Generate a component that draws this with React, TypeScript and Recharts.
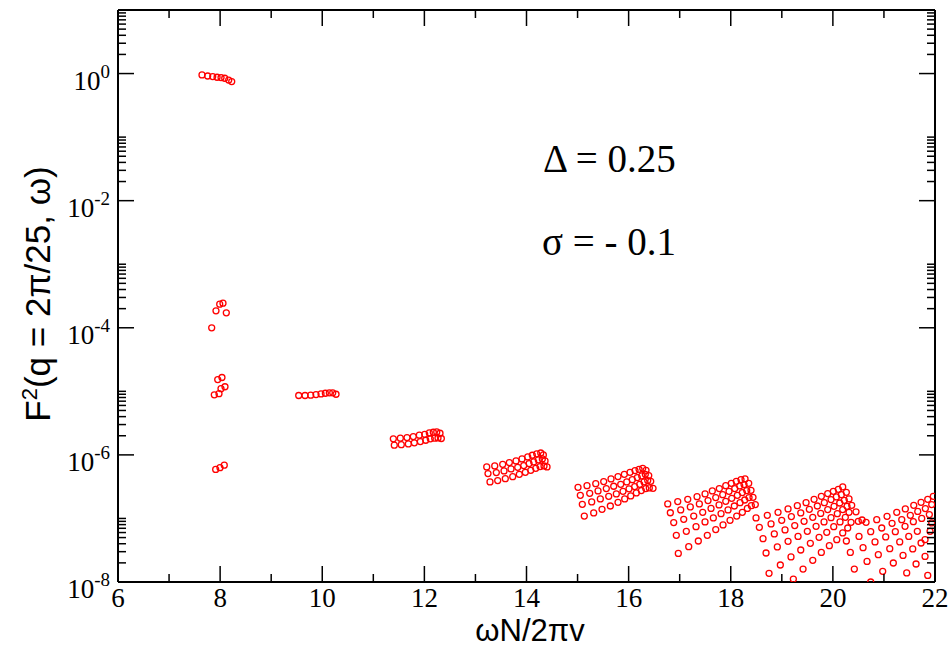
import React from "react";
import { ScatterChart, Scatter, XAxis, YAxis } from "recharts";

// points, one array per band of modes: [omegaN/2piv, F^2]
const band1 = [[7.645, 0.95], [7.756, 0.916], [7.855, 0.897], [7.94, 0.875], [8.018, 0.865], [8.09, 0.843], [8.168, 0.79], [8.227, 0.748]];
const band2 = [[7.835, 1.0e-4], [7.919, 1.85e-4], [7.992, 2.35e-4], [8.056, 2.44e-4], [8.121, 1.72e-4]];
const band3 = [[7.886, 8.8e-6], [7.953, 1.53e-5], [7.978, 9.2e-6], [8.017, 1.1e-5], [8.036, 1.65e-5], [8.095, 1.18e-5]];
const band4 = [[7.913, 5.9e-7], [7.997, 6.3e-7], [8.081, 6.9e-7]];
const band5 = [[9.539, 8.6e-6], [9.663, 8.6e-6], [9.774, 8.7e-6], [9.878, 8.9e-6], [9.976, 9.1e-6], [10.061, 9.33e-6], [10.139, 9.47e-6], [10.205, 9.47e-6], [10.27, 9.0e-6]];
const band6 = [
  [11.392, 1.79e-6], [11.529, 1.83e-6], [11.66, 1.87e-6], [11.783, 1.94e-6], [11.901, 2.04e-6], [12.007, 2.11e-6], [12.097, 2.22e-6], [12.175, 2.27e-6], [12.242, 2.3e-6], [12.306, 2.19e-6],
  [11.411, 1.42e-6], [11.548, 1.45e-6], [11.686, 1.49e-6], [11.803, 1.55e-6], [11.921, 1.62e-6], [12.026, 1.7e-6], [12.116, 1.79e-6], [12.202, 1.83e-6], [12.267, 1.85e-6], [12.332, 1.81e-6],
];
const band7 = [
  [13.221, 6.47e-7], [13.378, 6.71e-7], [13.534, 7.11e-7], [13.664, 7.57e-7], [13.795, 8.05e-7], [13.912, 8.65e-7], [14.024, 9.3e-7], [14.114, 9.87e-7], [14.2, 1.04e-6], [14.279, 1.07e-6], [14.33, 1.0e-6],
  [13.246, 5.08e-7], [13.409, 5.27e-7], [13.56, 5.6e-7], [13.697, 6.02e-7], [13.828, 6.38e-7], [13.946, 6.78e-7], [14.05, 7.29e-7], [14.141, 7.76e-7], [14.231, 8.34e-7], [14.31, 8.65e-7], [14.363, 8.05e-7],
  [13.285, 3.76e-7], [13.436, 3.94e-7], [13.585, 4.23e-7], [13.73, 4.54e-7], [13.859, 4.94e-7], [13.977, 5.32e-7], [14.083, 5.72e-7], [14.181, 6.15e-7], [14.265, 6.54e-7], [14.343, 6.71e-7], [14.402, 6.47e-7],
];
const band8 = [
  [15.009, 3.09e-7], [15.185, 3.28e-7], [15.356, 3.53e-7], [15.512, 3.8e-7], [15.655, 4.19e-7], [15.792, 4.55e-7], [15.916, 4.94e-7], [16.027, 5.32e-7], [16.125, 5.66e-7], [16.204, 5.93e-7], [16.276, 6.15e-7], [16.341, 5.72e-7],
  [15.054, 2.31e-7], [15.238, 2.48e-7], [15.401, 2.71e-7], [15.563, 2.95e-7], [15.708, 3.21e-7], [15.845, 3.44e-7], [15.963, 3.76e-7], [16.072, 4.08e-7], [16.17, 4.39e-7], [16.256, 4.67e-7], [16.327, 4.94e-7], [16.394, 4.72e-7],
  [15.093, 1.67e-7], [15.277, 1.82e-7], [15.446, 2.03e-7], [15.61, 2.23e-7], [15.759, 2.43e-7], [15.89, 2.67e-7], [16.008, 2.92e-7], [16.119, 3.17e-7], [16.217, 3.44e-7], [16.302, 3.76e-7], [16.374, 3.94e-7], [16.433, 3.84e-7],
  [15.132, 1.09e-7], [15.316, 1.22e-7], [15.479, 1.39e-7], [15.642, 1.57e-7], [15.792, 1.79e-7], [15.923, 2.03e-7], [16.041, 2.26e-7], [16.151, 2.52e-7], [16.249, 2.74e-7], [16.335, 2.95e-7], [16.405, 3.02e-7], [16.478, 2.98e-7],
];
const band9 = [
  [16.766, 1.69e-7], [16.962, 1.84e-7], [17.158, 2.0e-7], [17.34, 2.2e-7], [17.497, 2.43e-7], [17.639, 2.71e-7], [17.776, 2.95e-7], [17.902, 3.28e-7], [18.011, 3.57e-7], [18.109, 3.84e-7], [18.201, 4.08e-7], [18.28, 4.19e-7],
  [16.817, 1.23e-7], [17.02, 1.36e-7], [17.208, 1.52e-7], [17.385, 1.69e-7], [17.555, 1.91e-7], [17.706, 2.13e-7], [17.843, 2.37e-7], [17.966, 2.67e-7], [18.078, 2.95e-7], [18.176, 3.25e-7], [18.26, 3.41e-7], [18.352, 3.57e-7],
  [16.883, 8.6e-8], [17.079, 9.7e-8], [17.275, 1.09e-7], [17.451, 1.25e-7], [17.614, 1.44e-7], [17.771, 1.63e-7], [17.902, 1.86e-7], [18.019, 2.07e-7], [18.129, 2.31e-7], [18.227, 2.55e-7], [18.313, 2.74e-7], [18.397, 2.77e-7],
  [16.934, 5.42e-8], [17.13, 6.27e-8], [17.32, 7.43e-8], [17.496, 8.81e-8], [17.659, 1.02e-7], [17.81, 1.19e-7], [17.947, 1.36e-7], [18.07, 1.57e-7], [18.182, 1.77e-7], [18.274, 1.95e-7], [18.358, 2.13e-7], [18.436, 2.15e-7],
  [16.973, 2.82e-8], [17.177, 3.6e-8], [17.365, 4.42e-8], [17.541, 5.42e-8], [17.706, 6.67e-8], [17.849, 7.91e-8], [17.986, 9.33e-8], [18.117, 1.09e-7], [18.227, 1.25e-7], [18.325, 1.44e-7], [18.403, 1.59e-7], [18.481, 1.65e-7],
];
const band10 = [
  [18.495, 1.02e-7], [18.716, 1.12e-7], [18.926, 1.25e-7], [19.122, 1.41e-7], [19.304, 1.59e-7], [19.475, 1.77e-7], [19.632, 2.0e-7], [19.774, 2.23e-7], [19.899, 2.46e-7], [20.009, 2.67e-7], [20.107, 2.87e-7], [20.193, 3.13e-7], [20.264, 2.58e-7],
  [18.56, 7.24e-8], [18.789, 8.19e-8], [18.998, 9.33e-8], [19.187, 1.07e-7], [19.371, 1.22e-7], [19.539, 1.39e-7], [19.696, 1.57e-7], [19.833, 1.77e-7], [19.964, 1.98e-7], [20.068, 2.18e-7], [20.166, 2.37e-7], [20.316, 2.03e-7],
  [18.632, 4.81e-8], [18.853, 5.7e-8], [19.063, 6.59e-8], [19.253, 7.71e-8], [19.436, 9.0e-8], [19.606, 1.04e-7], [19.762, 1.2e-7], [19.899, 1.38e-7], [20.023, 1.55e-7], [20.134, 1.75e-7], [20.224, 1.93e-7], [20.369, 1.61e-7],
  [18.691, 2.86e-8], [18.912, 3.56e-8], [19.122, 4.36e-8], [19.318, 5.22e-8], [19.5, 6.27e-8], [19.671, 7.51e-8], [19.827, 8.81e-8], [19.964, 1.03e-7], [20.087, 1.19e-7], [20.193, 1.38e-7], [20.277, 1.55e-7], [20.453, 1.27e-7],
  [18.75, 1.37e-8], [18.971, 1.85e-8], [19.18, 2.48e-8], [19.371, 3.19e-8], [19.559, 4.06e-8], [19.73, 5.04e-8], [19.88, 6.04e-8], [20.017, 7.43e-8], [20.14, 8.81e-8], [20.244, 1.04e-7], [20.316, 1.25e-7], [20.498, 9.0e-8],
  [19.226, 1.11e-8], [19.416, 1.6e-8], [19.606, 2.19e-8], [19.774, 2.92e-8], [19.931, 3.73e-8], [20.076, 4.64e-8], [20.193, 5.92e-8], [20.291, 7.08e-8], [20.356, 8.69e-8],
  [20.264, 4.42e-8], [20.342, 2.92e-8], [20.42, 1.6e-8],
];
const band11 = [
  [20.571, 9.46e-8], [20.65, 8.69e-8],
  [20.859, 9.57e-8], [21.061, 1.08e-7], [21.251, 1.25e-7], [21.419, 1.41e-7], [21.584, 1.61e-7], [21.727, 1.79e-7], [21.858, 2.0e-7], [21.967, 2.23e-7],
  [20.741, 6.2e-8], [20.957, 7.08e-8], [21.159, 8.37e-8], [21.349, 9.57e-8], [21.517, 1.12e-7], [21.662, 1.29e-7], [21.811, 1.43e-7], [21.936, 1.65e-7],
  [20.512, 5.22e-8], [20.825, 4.27e-8], [21.035, 5.12e-8], [21.223, 6.2e-8], [21.413, 7.51e-8], [21.576, 8.9e-8], [21.74, 1.0e-7], [21.889, 1.15e-7],
  [20.591, 3.47e-8], [20.89, 2.69e-8], [21.114, 3.34e-8], [21.309, 4.27e-8], [21.486, 5.22e-8], [21.654, 6.27e-8], [21.936, 8.49e-8],
  [20.669, 2.11e-8], [21.184, 1.99e-8], [21.374, 2.62e-8], [21.564, 3.31e-8], [21.727, 4.11e-8], [21.903, 6.27e-8],
  [20.741, 1.0e-8], [20.976, 1.47e-8], [21.446, 1.39e-8], [21.629, 1.92e-8], [21.805, 2.53e-8], [21.805, 4.64e-8],
  [21.858, 1.27e-8],
];

const xTicks = [6, 7, 8, 9, 10, 11, 12, 13, 14, 15, 16, 17, 18, 19, 20, 21, 22];
const yMajor = [1e-8, 1e-6, 1e-4, 1e-2, 1];
const yMinorSteps = [2, 3, 4, 5, 6, 7, 8, 9, 10];

const points = [band1, band2, band3, band4, band5, band6, band7, band8, band9, band10, band11]
  .flat()
  .map(([x, y]) => ({ x, y }));

const yTicks = yMajor.flatMap((m) => [m, ...yMinorSteps.map((k) => k * m)]);

const SERIF = "'Liberation Serif', 'Times New Roman', serif";
const SANS = "'Liberation Sans', Arial, Helvetica, sans-serif";
const MAJOR = 16;
const MINOR = 8;

const expOf = (v: number) => Math.round(Math.log10(v));
const isMajorY = (v: number) => Math.abs(Math.log10(v) - expOf(v)) < 1e-6 && expOf(v) % 2 === 0;
const isMajorX = (v: number) => v % 2 === 0;

const LeftTick = (props: any) => {
  const { x, y, payload } = props;
  const major = isMajorY(payload.value);
  return (
    <g>
      <line x1={x} y1={y} x2={x + (major ? MAJOR : MINOR)} y2={y} stroke="#000" strokeWidth={1.5} />
      {major && (
        <text x={x - 8} y={y + 16} textAnchor="end" fontFamily={SERIF} fontSize={27} fill="#000">
          10
          <tspan dy={-12} fontSize={19}>{expOf(payload.value)}</tspan>
        </text>
      )}
    </g>
  );
};

const RightTick = (props: any) => {
  const { x, y, payload } = props;
  const major = isMajorY(payload.value);
  return <line x1={x} y1={y} x2={x - (major ? MAJOR : MINOR)} y2={y} stroke="#000" strokeWidth={1.5} />;
};

const BottomTick = (props: any) => {
  const { x, y, payload } = props;
  const major = isMajorX(payload.value);
  return (
    <g>
      <line x1={x} y1={y} x2={x} y2={y - (major ? MAJOR : MINOR)} stroke="#000" strokeWidth={1.5} />
      {major && (
        <text x={x} y={y + 25} textAnchor="middle" fontFamily={SERIF} fontSize={27} fill="#000">
          {payload.value}
        </text>
      )}
    </g>
  );
};

const TopTick = (props: any) => {
  const { x, y, payload } = props;
  const major = isMajorX(payload.value);
  return <line x1={x} y1={y} x2={x} y2={y + (major ? MAJOR : MINOR)} stroke="#000" strokeWidth={1.5} />;
};

const Ring = (props: any) => (
  <circle cx={props.cx} cy={props.cy} r={3} fill="none" stroke="#ff0000" strokeWidth={1.3} />
);
const Nothing = () => <g />;

const axisLine = { stroke: "#000", strokeWidth: 2 };

// axes are 1px thick boxes (recharts skips 0-sized axes); margins make the frame 118..935 x 10..582
const App = () => {
  return (
    <div style={{ position: "absolute", left: 0, top: 0 }}>
      <ScatterChart width={949} height={648} margin={{ top: 9, right: 13, bottom: 65, left: 117 }}>
        <XAxis
          xAxisId="bottom"
          dataKey="x"
          type="number"
          domain={[6, 22]}
          ticks={xTicks}
          interval={0}
          allowDataOverflow
          height={1}
          tickSize={0}
          tickMargin={0}
          tickLine={false}
          axisLine={axisLine}
          tick={(p: any) => <BottomTick {...p} />}
        />
        <XAxis
          xAxisId="top"
          orientation="top"
          dataKey="x"
          type="number"
          domain={[6, 22]}
          ticks={xTicks}
          interval={0}
          allowDataOverflow
          height={1}
          tickSize={0}
          tickMargin={0}
          tickLine={false}
          axisLine={axisLine}
          tick={(p: any) => <TopTick {...p} />}
        />
        <YAxis
          yAxisId="left"
          dataKey="y"
          type="number"
          scale="log"
          domain={[1e-8, 10]}
          ticks={yTicks}
          interval={0}
          allowDataOverflow
          width={1}
          tickSize={0}
          tickMargin={0}
          tickLine={false}
          axisLine={axisLine}
          tick={(p: any) => <LeftTick {...p} />}
        />
        <YAxis
          yAxisId="right"
          orientation="right"
          dataKey="y"
          type="number"
          scale="log"
          domain={[1e-8, 10]}
          ticks={yTicks}
          interval={0}
          allowDataOverflow
          width={1}
          tickSize={0}
          tickMargin={0}
          tickLine={false}
          axisLine={axisLine}
          tick={(p: any) => <RightTick {...p} />}
        />
        <Scatter xAxisId="top" yAxisId="right" data={points} shape={Nothing} isAnimationActive={false} />
        <Scatter xAxisId="bottom" yAxisId="left" data={points} shape={Ring} isAnimationActive={false} />
      </ScatterChart>
      <svg width={949} height={648} style={{ position: "absolute", left: 0, top: 0, pointerEvents: "none" }}>
        <text x={543} y={172} fontFamily={SERIF} fontSize={39} fill="#000">Δ = 0.25</text>
        <text x={542} y={255} fontFamily={SERIF} fontSize={39} fill="#000">σ = - 0.1</text>
        <text x={530} y={641} textAnchor="middle" fontFamily={SANS} fontSize={31} fill="#000">ωN/2πv</text>
        <text x={50} y={294} transform="rotate(-90 50 294)" textAnchor="middle" fontFamily={SANS} fontSize={35} fill="#000">
          F<tspan dy={-13} fontSize={22}>2</tspan>
          <tspan dy={13}>(q = 2π/25, ω)</tspan>
        </text>
      </svg>
    </div>
  );
};

export default App;
